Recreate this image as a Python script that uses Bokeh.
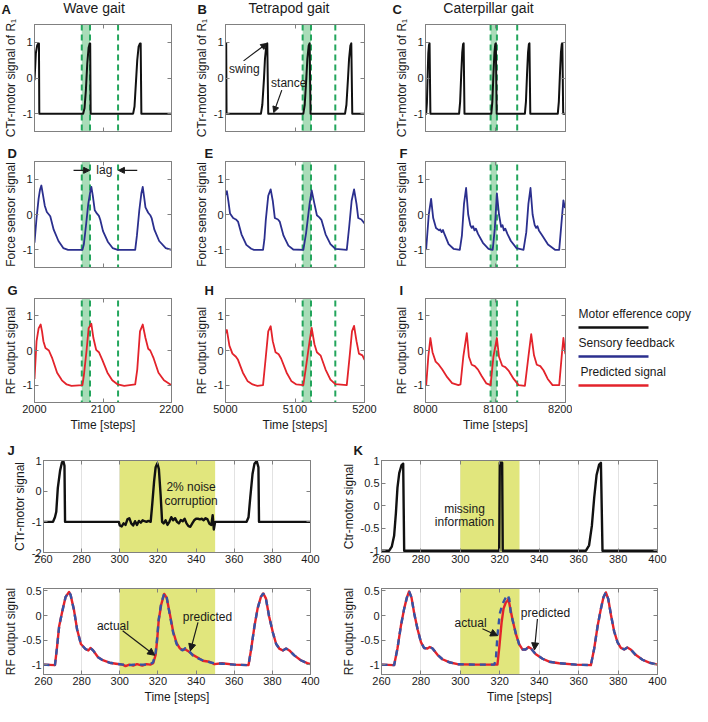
from bokeh.plotting import figure
from bokeh.layouts import row, column
from bokeh.models import Range1d, FixedTicker, LinearAxis, BoxAnnotation, Arrow, NormalHead, Label, Title
from bokeh.embed import file_html
from bokeh.resources import INLINE

FONT = "Liberation Sans"
TXT = "#1a1a1a"
AXC = "#808080"
BLACK = "#111111"
NAVY = "#2b2f8e"
RED = "#e3232b"
BLUE_ACT = "#3553a6"
GREEN_FILL = "#a9dcb8"
GREEN_LINE = "#23a55c"
YELLOW = "#e1e67d"

# ---------------- data ----------------
GAITS = ["Wave gait", "Tetrapod gait", "Caterpillar gait"]
GAIT_Y_TICKS = [-1, 0, 1]
GAIT_Y_LABELS = ["-1", "0", "1"]
WAVE_X_TICKS = [2000, 2100, 2200]
WAVE_X_LABELS = ["2000", "2100", "2200"]
TETRA_X_TICKS = [5000, 5100, 5200]
TETRA_X_LABELS = ["5000", "5100", "5200"]
CATER_X_TICKS = [8000, 8100, 8200]
CATER_X_LABELS = ["8000", "8100", "8200"]

# green lag band (start, end) and the later dashed line
WAVE_BAND = [2069, 2081, 2122]
TETRA_BAND = [5111, 5123, 5158]
CATER_BAND = [8093, 8102, 8131]

A_x = [2000, 2002, 2004, 2005.5, 2006.5, 2007, 2071, 2073, 2075, 2077, 2079, 2080.6, 2081.3, 2082,
       2144, 2146, 2148, 2150, 2152, 2154, 2155, 2156, 2200]
A_y = [-0.06, 0.7, 0.92, 0.97, 0.97, -1, -1, -0.85, -0.35, 0.4, 0.85, 0.97, 0.97, -1,
       -1, -0.8, -0.15, 0.5, 0.88, 0.97, 0.97, -1, -1]
B_x = [5000, 5001, 5001.5, 5051, 5053, 5055.4, 5056.8, 5058.7, 5060.1, 5061.5,
       5112, 5114, 5116.3, 5117.8, 5119.7, 5121, 5122.4,
       5172, 5174, 5176.3, 5177.8, 5179.7, 5181, 5182.4, 5200]
B_y = [0.95, 0.97, -1, -1, -0.75, -0.01, 0.54, 0.91, 0.97, -1,
       -1, -0.75, 0.0, 0.54, 0.91, 0.97, -1,
       -1, -0.75, 0.0, 0.54, 0.91, 0.97, -1, -1]
C_x = [8000, 8001, 8002, 8003, 8004, 8005, 8005.8, 8007,
       8048, 8049.5, 8051, 8052.5, 8053.7, 8054.5, 8055.7,
       8094, 8095.5, 8097, 8098.5, 8099.7, 8100.5, 8101.7,
       8142, 8143.5, 8145, 8146.5, 8147.7, 8148.5, 8149.7,
       8189, 8190.5, 8192, 8193.5, 8194.7, 8195.5, 8196.7, 8200]
C_y = [-1, -1, -0.7, 0.05, 0.7, 0.93, 0.97, -1,
       -1, -0.66, 0.08, 0.72, 0.95, 0.97, -1,
       -1, -0.66, 0.08, 0.72, 0.95, 0.97, -1,
       -1, -0.66, 0.08, 0.72, 0.95, 0.97, -1,
       -1, -0.66, 0.08, 0.72, 0.95, 0.97, -1, -1]
D_x = [2000, 2003, 2006, 2008, 2010, 2012, 2015, 2018, 2021, 2023, 2028, 2035, 2042, 2049,
       2070, 2072, 2075, 2078.5, 2081, 2083, 2085, 2088, 2091, 2094, 2096, 2100, 2107, 2114, 2121.5,
       2147, 2149.5, 2153, 2156, 2158, 2160, 2162, 2166, 2169, 2171, 2175, 2182, 2191.6, 2200]
D_y = [-0.8, -0.1, 0.45, 0.7, 0.82, 0.6, 0.25, 0.07, 0.0, -0.05, -0.43, -0.75, -0.95, -1.0,
       -1.0, -0.85, -0.34, 0.3, 0.6, 0.78, 0.55, 0.12, 0.03, -0.04, -0.15, -0.47, -0.77, -0.95, -1.0,
       -1.0, -0.6, 0.12, 0.6, 0.78, 0.5, 0.2, 0.05, -0.02, -0.1, -0.43, -0.75, -0.95, -1.0]
E_x = [5000, 5002, 5004, 5006.5, 5011, 5015, 5018, 5023, 5030, 5037, 5041,
       5054, 5056, 5058, 5061.5, 5065, 5068, 5071, 5075.5, 5078, 5083.5, 5090.5, 5097.5,
       5112, 5116, 5121, 5124, 5128, 5131.5, 5135, 5138, 5144, 5151, 5158,
       5174.5, 5178, 5181.5, 5185, 5188.5, 5191, 5195.5, 5200]
E_y = [0.55, 0.66, 0.4, 0.03, -0.1, -0.14, -0.2, -0.56, -0.86, -0.97, -1.0,
       -1.0, -0.7, -0.15, 0.53, 0.71, 0.39, -0.1, -0.14, -0.2, -0.6, -0.88, -0.99,
       -1.0, -0.52, 0.3, 0.68, 0.3, -0.02, -0.08, -0.15, -0.56, -0.84, -0.97,
       -1.0, -0.34, 0.39, 0.71, 0.3, -0.1, -0.14, -0.25]
F_x = [8000, 8001, 8004.7, 8008, 8011, 8015, 8019.5, 8021, 8023, 8025, 8027, 8033, 8040, 8049,
       8052, 8055, 8058, 8061, 8064, 8066, 8068, 8070, 8072, 8075, 8082, 8090, 8096,
       8099, 8102, 8105, 8108, 8110, 8112, 8114, 8117, 8122, 8130, 8140,
       8144, 8147, 8150, 8153, 8156, 8158, 8160, 8162, 8167, 8175, 8185, 8191,
       8194, 8197, 8199, 8200]
F_y = [-1.0, -0.97, 0.0, 0.44, -0.1, -0.38, -0.45, -0.42, -0.5, -0.44, -0.55, -0.84, -0.97, -1.0,
       -0.6, 0.3, 0.75, 0.0, -0.3, -0.38, -0.33, -0.45, -0.4, -0.55, -0.8, -0.97, -1.0,
       -0.4, 0.6, 0.0, -0.35, -0.3, -0.45, -0.4, -0.55, -0.75, -0.95, -1.0,
       -0.5, 0.3, 0.75, 0.0, -0.3, -0.38, -0.33, -0.45, -0.6, -0.85, -1.0, -1.0,
       -0.3, 0.4, 0.2, 0.3]
G_x = [2000, 2003, 2006, 2009, 2011, 2013, 2016, 2021, 2026, 2033, 2040, 2047, 2054,
       2070, 2072, 2076, 2079, 2083, 2086, 2090, 2094, 2099, 2106.5, 2113.5, 2121.5, 2131,
       2147, 2150, 2154, 2158, 2162, 2166, 2169, 2174, 2181, 2189, 2200]
G_y = [-0.82, 0.27, 0.64, 0.75, 0.55, 0.27, 0.07, 0.0, -0.23, -0.64, -0.86, -0.98, -1.02,
       -1.0, -0.73, 0.0, 0.64, 0.77, 0.36, 0.02, -0.05, -0.27, -0.64, -0.86, -0.98, -1.02,
       -0.98, -0.55, 0.55, 0.75, 0.36, 0.05, 0.0, -0.23, -0.64, -0.86, -1.0]
H_x = [5000, 5002, 5005.6, 5010, 5015, 5018, 5025, 5032, 5039, 5046, 5054,
       5058, 5061.5, 5065, 5068, 5072, 5076.5, 5080, 5088, 5095, 5102, 5112,
       5116, 5121, 5124, 5128, 5131.5, 5137, 5144, 5151, 5158, 5174.5,
       5179, 5182, 5185, 5188.5, 5192, 5197, 5200]
H_y = [0.5, 0.59, 0.14, -0.09, -0.18, -0.27, -0.64, -0.89, -0.98, -1.02, -1.0,
       -0.18, 0.55, 0.7, 0.27, -0.05, -0.11, -0.23, -0.64, -0.89, -0.98, -1.0,
       -0.45, 0.27, 0.65, 0.18, -0.05, -0.15, -0.55, -0.84, -0.97, -1.0,
       -0.09, 0.55, 0.71, 0.27, -0.09, -0.14, -0.27]
I_x = [8000, 8001, 8004, 8007, 8010, 8014.5, 8019, 8024, 8031, 8038, 8047,
       8050, 8054, 8059, 8062, 8066, 8070.5, 8075, 8080, 8087, 8093,
       8097, 8102, 8105, 8109.6, 8114, 8119, 8126, 8133, 8142,
       8147, 8151, 8155, 8159, 8164, 8168.5, 8174.6, 8181.5, 8191,
       8194.5, 8197, 8199, 8200]
I_y = [-1.0, -1.0, -0.18, 0.36, -0.05, -0.32, -0.41, -0.55, -0.77, -0.94, -1.0,
       -0.98, -0.18, 0.5, -0.18, -0.41, -0.45, -0.55, -0.73, -0.95, -1.0,
       -0.18, 0.36, -0.18, -0.44, -0.48, -0.59, -0.82, -1.0, -1.02,
       -0.18, 0.47, -0.14, -0.41, -0.45, -0.57, -0.82, -1.0, -1.0,
       -0.18, 0.36, 0.0, -0.1]

JK_X_TICKS = [260, 280, 300, 320, 340, 360, 380, 400]
JK_X_LABELS = ["260", "280", "300", "320", "340", "360", "380", "400"]
JT_Y_TICKS = [-2, -1, 0, 1]
JT_Y_LABELS = ["-2", "-1", "0", "1"]
KT_Y_TICKS = [-1, -0.5, 0, 0.5, 1]
KT_Y_LABELS = ["-1", "-0.5", "0", "0.5", "1"]
JKB_Y_TICKS = [-1, -0.5, 0, 0.5]
JKB_Y_LABELS = ["-1", "-0.5", "0", "0.5"]
J_SPAN = [300, 350]
K_SPAN = [300, 330]

JT_x = [260, 265, 266, 266.7, 267.5, 268.7, 269.7, 270.4, 271, 271.3,
        299.5, 300, 301, 302, 303, 304, 305, 306, 307, 308, 309, 310, 311, 312, 313, 314, 315, 316.2,
        317, 318, 318.8, 319.7, 320.5, 321.4, 322.2,
        323, 324, 325, 326, 327, 328, 329, 330, 331, 332, 333, 334, 335, 336, 337, 338, 339, 340,
        341, 342, 343, 344, 345, 346, 347, 348, 348.7, 349.3, 350,
        366.5, 367.5, 368.4, 369.6, 370.6, 371.8, 372.7, 373, 400]
JT_y = [-1, -1, -0.85, -0.67, 0.1, 0.67, 0.94, 0.98, 0.83, -1,
        -1, -1.12, -1.15, -1.05, -1.1, -0.92, -0.88, -1.05, -1.12, -0.98, -1.1, -0.97, -1.03, -0.95,
        -0.98, -1.0, -0.97, -1.0,
        -0.44, 0.33, 0.78, 0.91, 0.72, -0.11, -1.0,
        -1.05, -0.95, -1.1, -1.0, -0.85, -0.95, -0.88, -1.0, -1.05, -0.94, -0.98, -0.9, -1.05, -1.14,
        -1.16, -1.05, -0.95, -0.9, -0.9, -0.92, -0.9, -0.95, -0.88, -0.92, -1.06, -1.1, -0.78, -1.25, -1.0,
        -1, -0.85, -0.22, 0.56, 0.89, 0.98, 0.78, -1, -1]

JB_x = [260, 266, 267, 268.2, 270, 271.6, 273.4, 274.2, 276, 277.6, 279.6, 282, 283.5, 284.6, 286,
        288.6, 291.1, 294.6, 298, 301.5, 303, 305, 307, 309, 311.8, 314, 316, 317.5, 318.8, 319.6,
        320.4, 321.7, 323.3, 324.6, 326.4, 328, 329.8, 331.5, 333, 334.5, 335.7, 338.3, 341, 343.5,
        347, 349.6, 353.6, 360, 367.5, 368.9, 370.6, 372.3, 374, 375.2, 376.6, 378.3, 380.3, 382,
        383.8, 385.5, 387.2, 388.9, 391.5, 394.9, 398.3, 400]
JB_actual = [-1.0, -1.01, -0.68, -0.22, 0.11, 0.38, 0.48, 0.42, 0.11, -0.28, -0.58, -0.68, -0.71, -0.66, -0.71,
             -0.85, -0.91, -0.96, -0.98, -1.0, -1.0, -1.01, -1.0, -1.0, -1.0, -1.0, -0.99, -0.95, -0.75, -0.45,
             -0.08, 0.25, 0.45, 0.37, -0.02, -0.35, -0.58, -0.68, -0.71, -0.66, -0.7, -0.81, -0.87, -0.91,
             -0.95, -0.97, -0.98, -1.0, -1.01, -0.68, -0.22, 0.15, 0.38, 0.45, 0.35, -0.02, -0.35, -0.58,
             -0.68, -0.71, -0.67, -0.71, -0.81, -0.91, -0.97, -0.99]
JB_pred = [-1.0, -1.01, -0.68, -0.22, 0.11, 0.38, 0.48, 0.42, 0.11, -0.28, -0.58, -0.68, -0.71, -0.66, -0.71,
           -0.85, -0.91, -0.96, -0.98, -1.0, -1.03, -1.0, -1.02, -0.99, -1.02, -0.99, -1.0, -0.97, -0.8, -0.5,
           -0.1, 0.22, 0.44, 0.36, 0.0, -0.33, -0.56, -0.67, -0.7, -0.69, -0.72, -0.8, -0.86, -0.92,
           -0.94, -0.99, -0.97, -1.0, -1.01, -0.68, -0.22, 0.15, 0.38, 0.45, 0.35, -0.02, -0.35, -0.58,
           -0.68, -0.71, -0.67, -0.71, -0.81, -0.91, -0.97, -0.99]

KT_x = [260, 263.9, 265.2, 266.4, 267.3, 268.1, 269, 270.1, 271, 271.5,
        319.7, 320, 321.2, 321.5,
        363.7, 365.3, 366.7, 367.9, 369.1, 370.4, 371.3, 372.1, 400]
KT_y = [-1, -1, -0.91, -0.67, -0.17, 0.4, 0.72, 0.89, 0.93, -1,
        -1, 0.95, 0.95, -1,
        -1, -0.88, -0.45, 0.18, 0.68, 0.91, 0.95, -1, -1]

KB_x_actual = [260, 266.4, 268.1, 269.8, 271.5, 272.9, 274, 275.2, 276.6, 278.3, 280, 281.6, 283.3, 284.5,
               285.9, 288.4, 290.9, 294.3, 298.6, 307.9, 317.2, 318, 318.8, 320, 321.4, 322.7, 323.9, 324.8,
               325.6, 326.5, 328.2, 329.8, 331.5, 333.2, 334.6, 335.8, 338.3, 341.7, 345.1, 350.1, 358.6,
               366.2, 367.9, 369.6, 371.3, 372.6, 373.8, 375, 376.4, 378, 379.7, 381.4, 383.1, 384.7,
               386.4, 388.9, 392.4, 395.8, 400]
KB_actual = [-1, -1.01, -0.67, -0.22, 0.14, 0.37, 0.49, 0.37, 0.04, -0.28, -0.54, -0.66, -0.67, -0.64,
             -0.67, -0.8, -0.89, -0.95, -0.99, -1, -1, -0.9, -0.41, 0.04, 0.24, 0.34, 0.42, 0.34,
             0.04, -0.09, -0.38, -0.58, -0.69, -0.69, -0.64, -0.67, -0.79, -0.88, -0.94, -0.97, -1,
             -1.01, -0.67, -0.22, 0.14, 0.37, 0.47, 0.34, 0.01, -0.32, -0.54, -0.66, -0.69, -0.65,
             -0.69, -0.8, -0.9, -0.96, -1]
KB_x_pred = [260, 266.4, 268.1, 269.8, 271.5, 272.9, 274, 275.2, 276.6, 278.3, 280, 281.6, 283.3, 284.5,
             285.9, 288.4, 290.9, 294.3, 298.6, 307.9, 318.8, 319.7, 320.9, 321.9, 323.1, 323.9, 324.4,
             325.2, 326.5, 328.2, 329.8, 331.5, 333.2, 334.6, 335.8, 338.3, 341.7, 345.1, 350.1, 358.6,
             366.2, 367.9, 369.6, 371.3, 372.6, 373.8, 375, 376.4, 378, 379.7, 381.4, 383.1, 384.7,
             386.4, 388.9, 392.4, 395.8, 400]
KB_pred = [-1, -1.01, -0.67, -0.22, 0.14, 0.37, 0.49, 0.37, 0.04, -0.28, -0.54, -0.66, -0.67, -0.64,
           -0.67, -0.8, -0.89, -0.95, -0.99, -1, -1, -0.67, -0.15, 0.14, 0.27, 0.3, 0.34,
           0.17, -0.09, -0.38, -0.58, -0.69, -0.69, -0.64, -0.67, -0.79, -0.88, -0.94, -0.97, -1,
           -1.01, -0.67, -0.22, 0.14, 0.37, 0.47, 0.34, 0.01, -0.32, -0.54, -0.66, -0.69, -0.65,
           -0.69, -0.8, -0.9, -0.96, -1]

LEGEND_LABELS = ["Motor efference copy", "Sensory feedback", "Predicted signal"]
LEGEND_COLORS = [BLACK, NAVY, RED]


# ---------------- helpers ----------------
def style_axis(ax, ticks, labels=None):
    ax.axis_line_color = AXC
    ax.major_tick_line_color = AXC
    ax.major_tick_in = 4
    ax.major_tick_out = 0
    ax.minor_tick_line_color = None
    ax.minor_tick_out = 0
    ax.major_label_text_font = FONT
    ax.major_label_text_color = TXT
    if labels is None:
        ax.major_label_overrides = {t: "" for t in ticks}
        ax.major_label_text_font_size = "1px"
        ax.major_label_standoff = 0
    else:
        ax.major_label_overrides = dict(zip(ticks, labels))
        ax.major_label_text_font_size = "11px"
        ax.major_label_standoff = 2
    ax.axis_label_text_font = FONT
    ax.axis_label_text_font_size = "12px"
    ax.axis_label_text_font_style = "normal"
    ax.axis_label_text_color = TXT
    ax.axis_label_standoff = 2


def panel(xr, yr, w, h, borders, xt, xl, yt, yl, show_x, ylabel, xlabel=None, grid=False):
    l, r, t, b = borders
    p = figure(width=w, height=h, x_range=Range1d(*xr), y_range=Range1d(*yr),
               output_backend="svg", toolbar_location=None, title=None,
               min_border_left=l, min_border_right=r, min_border_top=t, min_border_bottom=b)
    p.outline_line_color = AXC
    p.outline_line_width = 1
    p.background_fill_color = "white"
    p.border_fill_color = "white"
    xtk = FixedTicker(ticks=xt)
    ytk = FixedTicker(ticks=yt)
    xa = p.xaxis[0]
    ya = p.yaxis[0]
    xa.ticker = xtk
    ya.ticker = ytk
    style_axis(xa, xt, xl if show_x else None)
    style_axis(ya, yt, yl)
    ya.axis_label = ylabel
    if xlabel:
        xa.axis_label = xlabel
    # inward ticks on the top and right edges (box style)
    ra = LinearAxis(ticker=ytk)
    style_axis(ra, yt, None)
    p.add_layout(ra, "right")
    ta = LinearAxis(ticker=xtk)
    style_axis(ta, xt, None)
    p.add_layout(ta, "above")
    p.xgrid.ticker = xtk
    p.xgrid.grid_line_color = "#e2e2e2" if grid else None
    p.ygrid.grid_line_color = None
    return p


def letter_title(p, text, offset, standoff):
    p.add_layout(Title(text=text, align="left", offset=offset, standoff=standoff,
                       text_font=FONT, text_font_size="13px", text_font_style="bold",
                       text_color=TXT), "above")


def txt(p, x, y, text, size="12px", align="center", bold=False, baseline="middle"):
    p.add_layout(Label(x=x, y=y, text=text, text_font=FONT, text_font_size=size,
                       text_font_style="bold" if bold else "normal",
                       text_color=TXT, text_align=align, text_baseline=baseline))


def arrow(p, x0, y0, x1, y1, size=7):
    p.add_layout(Arrow(end=NormalHead(size=size, fill_color=TXT, line_color=TXT, line_width=1),
                       x_start=x0, y_start=y0, x_end=x1, y_end=y1, line_color=TXT, line_width=1.2))


def vdash(p, xv, top, bottom):
    p.add_layout(Arrow(end=None, x_start=xv, x_end=xv, y_start=top, y_end=bottom,
                       line_color=GREEN_LINE, line_width=2, line_dash="6 4", level="underlay"))


# ---------------- header (gait titles and A/B/C) ----------------
HEAD_W, HEAD_H = 692, 17
head = figure(width=HEAD_W, height=HEAD_H, x_range=Range1d(0, HEAD_W), y_range=Range1d(0, HEAD_H),
              output_backend="svg", toolbar_location=None, title=None,
              x_axis_type=None, y_axis_type=None,
              min_border_left=0, min_border_right=0, min_border_top=0, min_border_bottom=0)
head.outline_line_color = None
col_frames = [(30, 171), (221, 364), (421, 565)]
letter_x = [1, 197, 392]
title_shift = [-7, -4, -5]
for (fl, fr), lx, sh, lab, g in zip(col_frames, letter_x, title_shift, ["A", "B", "C"], GAITS):
    txt(head, lx, 16, lab, size="13px", align="left", bold=True, baseline="top")
    txt(head, (fl + fr) / 2 + sh, 10, g, size="14px")

# ---------------- top section ----------------
YR = (-1.5, 1.5)
col_specs = [
    (191, 30, 20, (2000, 2200), WAVE_X_TICKS, WAVE_X_LABELS, WAVE_BAND, -27),
    (200, 30, 27, (5000, 5200), TETRA_X_TICKS, TETRA_X_LABELS, TETRA_BAND, -21),
    (181, 30, 7, (8000, 8200), CATER_X_TICKS, CATER_X_LABELS, CATER_BAND, -26),
]
row_specs = [(125, 7, 11), (137, 17, 12), (157, 16, 34)]
series = [
    [(A_x, A_y), (D_x, D_y), (G_x, G_y)],
    [(B_x, B_y), (E_x, E_y), (H_x, H_y)],
    [(C_x, C_y), (F_x, F_y), (I_x, I_y)],
]
letters = [["A", "D", "G"], ["B", "E", "H"], ["C", "F", "I"]]
ylabels = ["CTr-motor signal of R\u2081", "Force sensor signal", "RF output signal"]
colors = [BLACK, NAVY, RED]
widths = [2.0, 1.8, 1.8]

top_cols = []
figs = {}
for ci, (w, l, r, xr, xt, xl, band, lxo) in enumerate(col_specs):
    figs_col = []
    for ri, (h, t, b) in enumerate(row_specs):
        last = ri == 2
        p = panel(xr, YR, w, h, (l, r, t, b), xt, xl, GAIT_Y_TICKS, GAIT_Y_LABELS, last,
                  ylabels[ri], xlabel="Time [steps]" if last else None)
        top = YR[1] if ri == 0 else 60
        bottom = YR[0] if ri == 2 else -60
        p.add_layout(BoxAnnotation(left=band[0], right=band[1], top=top, bottom=bottom,
                                   fill_color=GREEN_FILL, fill_alpha=1.0, line_color=None,
                                   level="underlay"))
        for xv in band:
            vdash(p, xv, top, bottom)
        xs, ys = series[ci][ri]
        p.line(xs, ys, line_color=colors[ri], line_width=widths[ri], line_join="round")
        if ri > 0:
            letter_title(p, letters[ci][ri], lxo, 2)
        figs[letters[ci][ri]] = p
        figs_col.append(p)
    top_cols.append(column(*figs_col))

pD = figs["D"]
txt(pD, 2102, 1.25, "lag")
arrow(pD, 2057, 1.25, 2080.5, 1.25, size=6)
arrow(pD, 2150, 1.25, 2122.5, 1.25, size=6)
pB = figs["B"]
txt(pB, 5027, 0.26, "swing")
arrow(pB, 5026, 0.48, 5059.5, 0.97, size=6)
txt(pB, 5091, -0.15, "stance")
arrow(pB, 5081, -0.34, 5069.4, -0.97, size=6)

LEG_H = 419
leg = figure(width=120, height=LEG_H, x_range=Range1d(0, 120), y_range=Range1d(0, LEG_H),
             output_backend="svg", toolbar_location=None, title=None,
             x_axis_type=None, y_axis_type=None,
             min_border_left=0, min_border_right=0, min_border_top=0, min_border_bottom=0)
leg.outline_line_color = None
for i, (lab, colr) in enumerate(zip(LEGEND_LABELS, LEGEND_COLORS)):
    ty = 123 - i * 29
    txt(leg, 6 + (2 if i == 2 else 0), ty, lab, align="left")
    leg.add_layout(Arrow(end=None, x_start=6, x_end=76, y_start=ty - 14, y_end=ty - 14,
                         line_color=colr, line_width=2.5))

top_section = column(head, row(*top_cols, leg))

# ---------------- J / K ----------------
JKX = (260, 400)
pJT = panel(JKX, (-2, 1), 337, 146, (38, 27, 24, 30), JK_X_TICKS, JK_X_LABELS,
            JT_Y_TICKS, JT_Y_LABELS, True, "CTr-motor signal", grid=True)
pJB = panel(JKX, (-1.2, 0.55), 337, 124, (38, 27, 6, 31), JK_X_TICKS, JK_X_LABELS,
            JKB_Y_TICKS, JKB_Y_LABELS, True, "RF output signal", xlabel="Time [steps]", grid=True)
pKT = panel(JKX, (-1.04, 1), 355, 146, (44, 35, 24, 30), JK_X_TICKS, JK_X_LABELS,
            KT_Y_TICKS, KT_Y_LABELS, True, "Ctr-motor signal", grid=True)
pKB = panel(JKX, (-1.2, 0.55), 355, 124, (44, 35, 6, 31), JK_X_TICKS, JK_X_LABELS,
            JKB_Y_TICKS, JKB_Y_LABELS, True, "RF output signal", xlabel="Time [steps]", grid=True)

for pt, pb, span in ((pJT, pJB, J_SPAN), (pKT, pKB, K_SPAN)):
    pt.add_layout(BoxAnnotation(left=span[0], right=span[1], top=pt.y_range.end, bottom=-40,
                                fill_color=YELLOW, fill_alpha=1.0, line_color=None, level="underlay"))
    pb.add_layout(BoxAnnotation(left=span[0], right=span[1], top=40, bottom=pb.y_range.start,
                                fill_color=YELLOW, fill_alpha=1.0, line_color=None, level="underlay"))

pJT.line(JT_x, JT_y, line_color=BLACK, line_width=2.4, line_join="round")
pKT.line(KT_x, KT_y, line_color=BLACK, line_width=2.4, line_join="round")
pJB.line(JB_x, JB_pred, line_color=RED, line_width=2.4, line_join="round")
pJB.line(JB_x, JB_actual, line_color=BLUE_ACT, line_width=2.4, line_dash="6 5")
pKB.line(KB_x_pred, KB_pred, line_color=RED, line_width=2.4, line_join="round")
pKB.line(KB_x_actual, KB_actual, line_color=BLUE_ACT, line_width=2.4, line_dash="6 5")

letter_title(pJT, "J", -36, 6)
letter_title(pKT, "K", -28, 6)

txt(pJT, 337.4, 0.13, "2% noise")
txt(pJT, 337.4, -0.33, "corruption")
txt(pKT, 302.1, -0.085, "missing")
txt(pKT, 302.1, -0.36, "information")

txt(pJB, 296.4, -0.21, "actual")
arrow(pJB, 301.5, -0.31, 318.3, -0.81)
txt(pJB, 346, -0.02, "predicted")
arrow(pJB, 341, -0.14, 337, -0.72)

txt(pKB, 305.2, -0.15, "actual")
arrow(pKB, 311.2, -0.27, 318.9, -0.41)
txt(pKB, 343.2, 0.046, "predicted")
arrow(pKB, 339.1, -0.07, 337.6, -0.70)

bottom_section = row(column(pJT, pJB), column(pKT, pKB))
layout = column(top_section, bottom_section)

open("out.html", "w").write(file_html(layout, INLINE))
